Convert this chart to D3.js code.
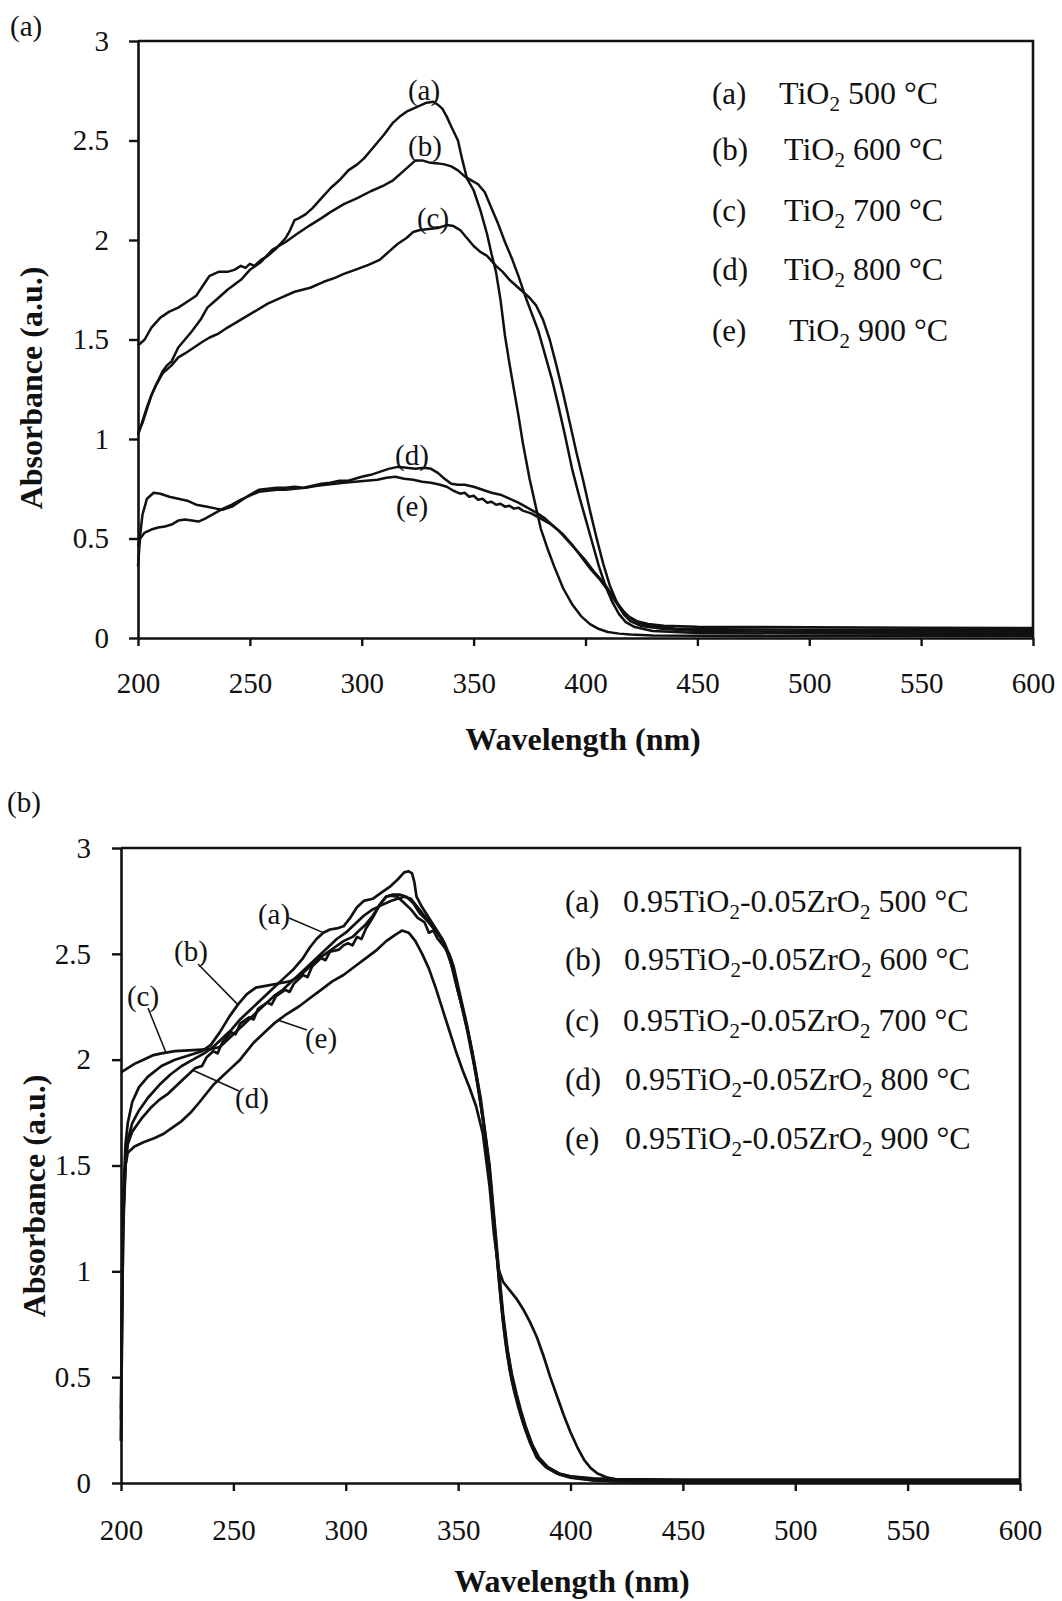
<!DOCTYPE html>
<html><head><meta charset="utf-8">
<script src="https://cdn.jsdelivr.net/npm/d3@7"></script>
<style>
body{margin:0;background:#fff}
svg{display:block}
text{font-family:"Liberation Serif","Times New Roman",serif;fill:#111}
</style>
</head><body>
<svg id="chart" width="1062" height="1601"></svg>
<script>
// ---------- axes ----------
const xTicks = [200, 250, 300, 350, 400, 450, 500, 550, 600];
const yTicks = [0, 0.5, 1, 1.5, 2, 2.5, 3];
const yTickLabels = ["0", "0.5", "1", "1.5", "2", "2.5", "3"];
const xTitle = "Wavelength (nm)";
const yTitle = "Absorbance (a.u.)";

// ---------- panel (a): TiO2 ----------
const topNames = ["(a)", "(b)", "(c)", "(d)", "(e)"];
const topLegend = ["TiO_2 500 °C", "TiO_2 600 °C", "TiO_2 700 °C", "TiO_2 800 °C", "TiO_2 900 °C"];

const topA = [[200,1.47],[203,1.5],[206,1.56],[210,1.61],[214,1.64],[218,1.66],[222,1.69],[226,1.72],[229,1.77],[232,1.82],[236,1.84],[240,1.84],[243,1.85],[246,1.87],[248,1.86],[250,1.88],[252,1.87],[255,1.9],[258,1.92],[262,1.96],[266,2.01],[268,2.05],[270,2.1],[272,2.11],[275,2.13],[278,2.16],[282,2.21],[286,2.26],[290,2.3],[294,2.35],[298,2.38],[301,2.41],[304,2.45],[307,2.49],[310,2.53],[314,2.59],[317,2.62],[320,2.645],[323,2.66],[326,2.675],[329,2.69],[332,2.695],[334,2.68],[336,2.66],[338,2.62],[340,2.57],[343,2.5],[345,2.4],[347,2.31],[350,2.25],[353,2.15],[356,2.03],[358,1.93],[360,1.84],[362,1.7],[364,1.52],[366,1.38],[368,1.25],[370,1.12],[372,0.98],[375,0.8],[378,0.65],[380,0.55],[383,0.45],[386,0.36],[390,0.25],[394,0.17],[398,0.11],[402,0.07],[406,0.045],[410,0.03],[415,0.022],[420,0.017],[430,0.013],[450,0.011],[500,0.01],[550,0.01],[600,0.01]];
const topB = [[200,1.02],[202,1.09],[204,1.16],[206,1.22],[208,1.27],[211,1.34],[213,1.37],[215,1.39],[218,1.46],[221,1.5],[224,1.54],[228,1.6],[231,1.66],[235,1.7],[240,1.75],[246,1.8],[250,1.85],[255,1.89],[260,1.95],[266,1.99],[271,2.03],[277,2.075],[282,2.11],[286,2.14],[292,2.18],[298,2.21],[304,2.245],[310,2.275],[314,2.3],[318,2.34],[321,2.37],[324,2.4],[327,2.4],[330,2.39],[334,2.385],[337,2.38],[340,2.37],[343,2.35],[346,2.32],[349,2.3],[352,2.28],[355,2.24],[358,2.16],[361,2.08],[364,1.99],[367,1.91],[370,1.82],[373,1.72],[376,1.63],[379,1.54],[382,1.42],[385,1.3],[388,1.16],[391,1.01],[394,0.85],[397,0.72],[400,0.6],[403,0.48],[406,0.36],[409,0.26],[412,0.18],[415,0.12],[418,0.08],[422,0.055],[430,0.035],[450,0.025],[500,0.022],[550,0.021],[600,0.02]];
const topC = [[200,1.03],[202,1.08],[204,1.15],[206,1.22],[208,1.27],[211,1.33],[215,1.37],[218,1.41],[221,1.43],[225,1.46],[229,1.49],[232,1.51],[236,1.53],[240,1.56],[246,1.6],[252,1.64],[258,1.68],[264,1.71],[270,1.74],[277,1.76],[283,1.79],[288,1.81],[292,1.83],[297,1.85],[303,1.875],[308,1.9],[312,1.94],[316,1.98],[320,2.01],[323,2.04],[326,2.05],[330,2.055],[334,2.06],[338,2.075],[341,2.07],[344,2.05],[347,2.01],[350,1.97],[353,1.94],[356,1.92],[360,1.87],[363,1.84],[366,1.8],[369,1.77],[372,1.74],[375,1.71],[378,1.67],[381,1.6],[384,1.5],[387,1.37],[390,1.23],[393,1.08],[396,0.93],[399,0.79],[402,0.64],[405,0.5],[408,0.37],[411,0.26],[414,0.18],[417,0.12],[420,0.085],[425,0.06],[435,0.045],[450,0.035],[500,0.032],[550,0.031],[600,0.03]];
const topD = [[200,0.36],[201,0.52],[202,0.62],[204,0.7],[207,0.73],[210,0.725],[214,0.71],[218,0.7],[222,0.69],[226,0.67],[231,0.66],[235,0.65],[238,0.645],[242,0.66],[246,0.69],[250,0.72],[254,0.745],[258,0.75],[262,0.755],[266,0.755],[270,0.76],[274,0.755],[278,0.765],[282,0.775],[286,0.78],[290,0.79],[294,0.79],[297,0.8],[300,0.81],[304,0.82],[308,0.835],[312,0.85],[316,0.86],[320,0.855],[324,0.85],[328,0.855],[331,0.85],[334,0.83],[337,0.8],[340,0.775],[343,0.77],[346,0.77],[350,0.76],[354,0.745],[358,0.73],[362,0.72],[366,0.7],[370,0.68],[374,0.655],[378,0.63],[382,0.6],[386,0.56],[390,0.52],[394,0.47],[398,0.41],[402,0.35],[406,0.3],[410,0.24],[413,0.19],[416,0.14],[419,0.11],[423,0.085],[428,0.07],[435,0.062],[450,0.057],[500,0.054],[550,0.052],[600,0.05]];
const topE = [[200,0.46],[201,0.5],[203,0.53],[206,0.545],[209,0.555],[212,0.56],[215,0.57],[218,0.59],[221,0.595],[224,0.59],[227,0.585],[230,0.6],[234,0.625],[238,0.65],[242,0.67],[246,0.695],[250,0.715],[254,0.735],[258,0.74],[262,0.745],[266,0.745],[270,0.75],[275,0.755],[280,0.765],[284,0.77],[288,0.775],[292,0.78],[297,0.785],[302,0.79],[307,0.795],[311,0.805],[315,0.81],[319,0.8],[323,0.795],[327,0.785],[331,0.78],[335,0.77],[338,0.76],[341,0.74],[344,0.725],[346,0.73],[348,0.71],[350,0.715],[352,0.695],[354,0.7],[356,0.68],[358,0.685],[360,0.67],[362,0.675],[364,0.66],[366,0.665],[368,0.65],[370,0.655],[372,0.64],[376,0.625],[380,0.6],[384,0.575],[388,0.54],[392,0.49],[396,0.44],[400,0.39],[404,0.33],[408,0.28],[411,0.23],[414,0.18],[417,0.135],[420,0.1],[424,0.075],[430,0.058],[440,0.048],[460,0.044],[500,0.042],[550,0.041],[600,0.04]];
const topSeries = [topA, topB, topC, topD, topE];
// curve tags: [text x px, text baseline px]
const topTags = [[424,100],[425,156],[433,228],[412,465],[412,516]];

// ---------- panel (b): 0.95TiO2-0.05ZrO2 ----------
const botNames = ["(a)", "(b)", "(c)", "(d)", "(e)"];
const botLegend = ["0.95TiO_2-0.05ZrO_2 500 °C", "0.95TiO_2-0.05ZrO_2 600 °C", "0.95TiO_2-0.05ZrO_2 700 °C", "0.95TiO_2-0.05ZrO_2 800 °C", "0.95TiO_2-0.05ZrO_2 900 °C"];

const botA = [[200,0.3],[200.5,0.9],[201,1.3],[202,1.52],[203,1.62],[205,1.7],[208,1.76],[212,1.82],[217,1.88],[222,1.93],[227,1.97],[232,2.0],[237,2.03],[241,2.06],[245,2.1],[249,2.14],[253,2.19],[257,2.23],[261,2.27],[265,2.31],[269,2.35],[273,2.39],[277,2.43],[281,2.48],[284,2.53],[287,2.57],[290,2.6],[293,2.615],[296,2.62],[299,2.63],[302,2.67],[305,2.72],[308,2.75],[312,2.76],[316,2.79],[320,2.82],[323,2.85],[326,2.885],[328,2.89],[329.5,2.88],[330.5,2.84],[331.5,2.77],[334,2.72],[337,2.67],[340,2.62],[343,2.57],[346,2.49],[349,2.36],[352,2.24],[355,2.1],[358,1.93],[361,1.72],[363,1.56],[365,1.34],[367,1.1],[369,0.86],[371,0.67],[373,0.53],[375,0.43],[377,0.35],[379,0.28],[382,0.19],[385,0.12],[389,0.075],[394,0.045],[400,0.03],[410,0.018],[420,0.014],[450,0.012],[500,0.012],[600,0.012]];
const botB = [[200,0.35],[200.5,1.0],[201,1.35],[202,1.6],[203,1.7],[205,1.8],[208,1.87],[212,1.92],[218,1.97],[224,2.0],[230,2.02],[236,2.04],[240,2.07],[244,2.13],[248,2.2],[252,2.26],[256,2.31],[260,2.34],[265,2.35],[270,2.36],[275,2.37],[279,2.39],[283,2.43],[287,2.47],[291,2.5],[295,2.53],[299,2.56],[303,2.58],[306,2.61],[309,2.64],[312,2.68],[315,2.73],[318,2.77],[321,2.78],[324,2.78],[327,2.77],[330,2.74],[333,2.69],[336,2.66],[339,2.62],[342,2.58],[345,2.51],[348,2.42],[351,2.28],[354,2.14],[357,1.98],[360,1.8],[362,1.64],[364,1.46],[366,1.22],[368,0.98],[370,0.76],[372,0.6],[374,0.48],[376,0.4],[378,0.32],[380,0.25],[383,0.17],[386,0.11],[390,0.07],[395,0.04],[400,0.025],[410,0.012],[420,0.009],[450,0.008],[500,0.008],[600,0.008]];
const botC = [[200,1.94],[203,1.96],[206,1.98],[210,2.0],[214,2.02],[218,2.03],[224,2.04],[232,2.045],[240,2.05],[244,2.06],[248,2.1],[252,2.14],[256,2.18],[260,2.22],[264,2.26],[268,2.3],[272,2.33],[276,2.37],[280,2.41],[284,2.45],[288,2.49],[292,2.53],[296,2.57],[300,2.6],[304,2.64],[308,2.68],[312,2.71],[316,2.73],[320,2.75],[323,2.76],[326,2.77],[329,2.76],[332,2.72],[335,2.68],[338,2.64],[341,2.6],[344,2.55],[347,2.47],[350,2.32],[353,2.2],[356,2.05],[359,1.87],[362,1.65],[364,1.48],[366,1.24],[368,1.0],[370,0.78],[372,0.62],[374,0.5],[376,0.41],[378,0.33],[380,0.26],[383,0.18],[386,0.115],[390,0.072],[395,0.045],[400,0.032],[410,0.022],[420,0.018],[450,0.016],[500,0.016],[600,0.016]];
const botD = [[200,0.2],[200.5,0.8],[201,1.25],[202,1.5],[203,1.6],[205,1.66],[209,1.72],[213,1.77],[217,1.81],[221,1.84],[225,1.88],[229,1.92],[233,1.96],[236,1.97],[238,2.01],[241,2.04],[243,2.03],[245,2.08],[249,2.13],[251,2.12],[253,2.17],[257,2.2],[259,2.19],[261,2.24],[265,2.27],[267,2.26],[269,2.3],[273,2.33],[275,2.32],[277,2.36],[281,2.4],[283,2.39],[285,2.44],[289,2.48],[291,2.47],[293,2.51],[297,2.52],[299,2.54],[301,2.55],[303,2.54],[305,2.58],[307,2.57],[309,2.62],[312,2.67],[315,2.73],[318,2.77],[320,2.775],[323,2.77],[326,2.74],[329,2.71],[332,2.67],[335,2.65],[337,2.6],[339,2.61],[341,2.57],[344,2.53],[346,2.5],[348,2.44],[351,2.3],[354,2.16],[357,2.0],[360,1.82],[362,1.66],[364,1.5],[366,1.26],[368,1.02],[370,0.8],[372,0.63],[374,0.51],[376,0.42],[378,0.34],[380,0.27],[383,0.18],[386,0.12],[390,0.075],[395,0.044],[400,0.027],[410,0.013],[420,0.009],[450,0.006],[500,0.006],[600,0.005]];
const botE = [[200,0.2],[200.5,0.8],[201,1.2],[202,1.5],[203,1.56],[206,1.59],[210,1.61],[215,1.63],[219,1.65],[223,1.68],[227,1.71],[231,1.75],[235,1.8],[238,1.84],[241,1.88],[245,1.92],[249,1.96],[253,2.0],[256,2.04],[259,2.08],[263,2.12],[268,2.17],[273,2.21],[279,2.25],[284,2.29],[289,2.33],[294,2.37],[299,2.4],[304,2.44],[309,2.48],[314,2.52],[318,2.56],[322,2.59],[325,2.61],[328,2.6],[331,2.56],[334,2.5],[337,2.43],[340,2.34],[343,2.24],[346,2.14],[349,2.04],[352,1.95],[355,1.87],[358,1.78],[361,1.65],[364,1.4],[366,1.17],[368,1.01],[370,0.95],[373,0.91],[376,0.87],[379,0.82],[382,0.76],[385,0.69],[388,0.6],[391,0.5],[394,0.41],[397,0.32],[400,0.24],[403,0.17],[406,0.11],[409,0.07],[412,0.045],[416,0.027],[420,0.017],[425,0.011],[440,0.007],[500,0.006],[600,0.005]];
const botSeries = [botA, botB, botC, botD, botE];
// curve tags: text centre x, baseline, leader start x,y, leader target wavelength
const botTags = [
  {x:274, y:924, sx:289, sy:918, wl:290},
  {x:191, y:961, sx:198, sy:964, wl:252},
  {x:143, y:1006, sx:148, sy:1008, wl:220},
  {x:252, y:1108, sx:239, sy:1091, wl:232},
  {x:321, y:1048, sx:307, sy:1030, wl:270}
];

const svg = d3.select("#chart");

function interp(series, wl){
  for (let i=1;i<series.length;i++){
    if (series[i][0] >= wl){
      const [x0,y0]=series[i-1],[x1,y1]=series[i];
      return y0 + (y1-y0)*(wl-x0)/(x1-x0);
    }
  }
  return series[series.length-1][1];
}

function addSubText(sel, str, subSize){
  const parts = str.split("_");
  parts.forEach((p,i)=>{
    if (i===0){ sel.append("tspan").text(p); return; }
    sel.append("tspan").attr("font-size", subSize).attr("dy", 7).text(p[0]);
    sel.append("tspan").attr("dy", -7).text(p.slice(1));
  });
}

function panel(p){
  const x = d3.scaleLinear().domain([200,600]).range([p.left, p.right]);
  const y = d3.scaleLinear().domain([0,3]).range([p.bottom, p.top]);
  const g = svg.append("g");

  // frame top/right
  g.append("path")
    .attr("d", `M${x(200)},${y(3)}H${x(600)}V${y(0)}`)
    .attr("fill","none").attr("stroke","#111").attr("stroke-width",2.6);

  // curves
  const line = d3.line().x(d=>x(d[0])).y(d=>y(d[1]));
  p.series.forEach(s=>{
    g.append("path").datum(s).attr("d", line)
      .attr("fill","none").attr("stroke","#111")
      .attr("stroke-width", p.lw).attr("stroke-linejoin","round");
  });

  // axes
  const xa = g.append("g").attr("transform",`translate(0,${y(0)})`)
    .call(d3.axisBottom(x).tickValues(xTicks).tickSize(8).tickSizeOuter(0).tickPadding(p.xpad).tickFormat(d=>String(d)));
  const ya = g.append("g").attr("transform",`translate(${x(200)},0)`)
    .call(d3.axisLeft(y).tickValues(yTicks).tickSize(9).tickSizeOuter(0).tickPadding(p.ypad).tickFormat((d,i)=>yTickLabels[i]));
  [xa,ya].forEach(a=>{
    a.select(".domain").attr("stroke","#111").attr("stroke-width",2.6);
    a.selectAll(".tick line").attr("stroke","#111").attr("stroke-width",2.4);
    a.selectAll(".tick text").attr("font-family","Liberation Serif, serif").attr("font-size",29).attr("fill","#111");
  });

  // titles
  g.append("text").attr("x", p.xtx).attr("y", p.xty).attr("text-anchor","middle")
    .attr("font-weight","bold").attr("font-size",32).text(xTitle);
  g.append("text").attr("transform",`translate(${p.ytx},${p.yty}) rotate(-90)`).attr("text-anchor","middle")
    .attr("font-weight","bold").attr("font-size",32).text(yTitle);

  // panel letter
  g.append("text").attr("x", p.plx).attr("y", p.ply).attr("font-size",29).text(p.panel);

  // legend
  p.legend.forEach((t,i)=>{
    g.append("text").attr("x", p.lgNameX).attr("y", p.lgY[i]).attr("font-size",31).text(p.names[i]);
    const tx = g.append("text").attr("x", p.lgTextX[i]).attr("y", p.lgY[i]).attr("font-size",32);
    addSubText(tx, t, 21);
  });

  return {x, y, g};
}

// ----- panel (a)
const P1 = panel({
  left:138, right:1033, top:41, bottom:638, series: topSeries, lw:2.5,
  xpad:26, ypad:20, xtx:583, xty:750, ytx:42, yty:388,
  plx:10, ply:36, panel:"(a)",
  legend: topLegend, names: topNames, lgNameX:712,
  lgTextX:[779,784,784,784,789], lgY:[104,160,221,280,341]
});
topTags.forEach((t,i)=>{
  P1.g.append("text").attr("x",t[0]).attr("y",t[1]).attr("text-anchor","middle").attr("font-size",29).text(topNames[i]);
});

// ----- panel (b)
const P2 = panel({
  left:121, right:1020, top:848, bottom:1483, series: botSeries, lw:2.7,
  xpad:28, ypad:21, xtx:572, xty:1592, ytx:45, yty:1196,
  plx:7, ply:812, panel:"(b)",
  legend: botLegend, names: botNames, lgNameX:565,
  lgTextX:[623,624,623,625,625], lgY:[912,970,1031,1090,1149]
});
botTags.forEach((t,i)=>{
  P2.g.append("text").attr("x",t.x).attr("y",t.y).attr("text-anchor","middle").attr("font-size",29).text(botNames[i]);
  const tx = P2.x(t.wl), ty = P2.y(interp(botSeries[i], t.wl));
  P2.g.append("line").attr("x1",t.sx).attr("y1",t.sy).attr("x2",tx).attr("y2",ty)
    .attr("stroke","#111").attr("stroke-width",1.5);
});
</script>
</body></html>
